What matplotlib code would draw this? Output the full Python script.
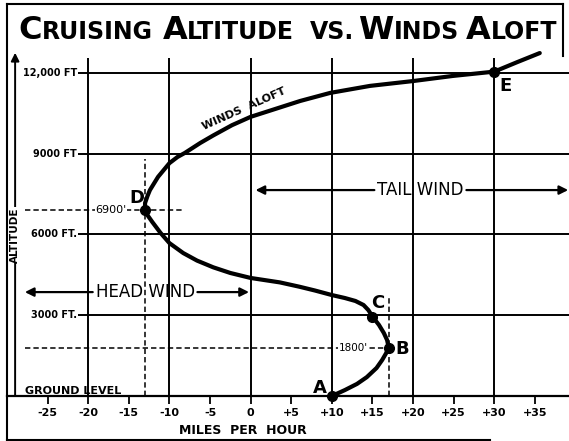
import matplotlib.pyplot as plt
from matplotlib.lines import Line2D

# winds aloft curve: wind speed in mph (+ = tail wind) against altitude in feet
wind = [10, 11.6, 13.1, 14.3, 15.5, 16.2, 16.7, 17.0,
        16.8, 16.4, 15.8, 15.0,
        14.5, 13.9, 12.9, 11.6, 10.0, 7.9, 6.0, 3.6, 0.0, -2.5, -4.6,
        -6.6, -8.3, -10.0, -11.1, -12.1, -12.8, -13.0,
        -13.0, -12.7, -12.4, -11.4, -10.0, -9.0, -8.1, -6.2, -4.6, -2.3,
        0.0, 3.0, 6.1, 9.8, 14.7, 20.0, 24.9, 30.0, 32.8, 35.6]
alt = [0, 220, 450, 700, 1040, 1340, 1600, 1800,
       2080, 2340, 2640, 2950,
       3190, 3380, 3530, 3640, 3750, 3920, 4060, 4220, 4385, 4570, 4780,
       5030, 5310, 5680, 6060, 6460, 6760, 6900,
       7170, 7430, 7650, 8140, 8650, 8880, 9030, 9400, 9680, 10060,
       10370, 10660, 10960, 11260, 11520, 11700, 11890, 12050, 12400, 12740]

# lettered points on the curve
pt_names = ['A', 'B', 'C', 'D', 'E']
pt_wind = [10, 17, 15, -13, 30]
pt_alt = [0, 1800, 2950, 6900, 12050]

mph_ticks = [-25, -20, -15, -10, -5, 0, 5, 10, 15, 20, 25, 30, 35]
mph_labels = ['-25', '-20', '-15', '-10', '-5', '0', '+5', '+10', '+15',
              '+20', '+25', '+30', '+35']
mph_grid = [-20, -10, 0, 10, 20, 30]
alt_grid = [3000, 6000, 9000, 12000]
alt_labels = ['3000 FT.', '6000 FT.', '9000 FT', '12,000 FT']

title_words = ['CRUISING', 'ALTITUDE', 'VS.', 'WINDS', 'ALOFT']

W, H = 569, 441
fig = plt.figure(figsize=(W / 100, H / 100), dpi=100)
ax = fig.add_axes([7 / W, (H - 396) / H, (W - 7) / W, (396 - 5) / H])
ax.set_xlim(-30, 39.2)
ax.set_ylim(0, 14525)
for s in ['left', 'right', 'top']:
    ax.spines[s].set_visible(False)
ax.spines['bottom'].set_linewidth(1.6)
ax.set_yticks([])
ax.set_xticks(mph_ticks, mph_labels)
ax.tick_params(axis='x', direction='out', length=6, width=1.3, pad=2.5,
               labelsize=8)
for lab in ax.get_xticklabels():
    lab.set_fontweight('bold')
ax.set_xlabel('MILES  PER  HOUR', fontsize=9, fontweight='bold')
ax.xaxis.set_label_coords((243 - 7) / (W - 7), -0.072)

# grid
ax.vlines(mph_grid, 0, 12550, color='k', lw=1.4)
ax.hlines(alt_grid, -21.3, 39.2, color='k', lw=1.4)
for a, lab in zip(alt_grid, alt_labels):
    ax.text(-21.4, a, lab, ha='right', va='center', fontsize=7,
            fontweight='bold')
ax.text(-27.8, 90, 'GROUND LEVEL', ha='left', va='baseline', fontsize=8,
        fontweight='bold')

# dashed guides through D and B
dash = dict(color='k', lw=1.1, linestyle=(0, (3.5, 2)))
ax.plot([pt_wind[3]] * 2, [0, 8800], **dash)
ax.plot([-27.8, -8.3], [pt_alt[3]] * 2, **dash)
ax.plot([pt_wind[1]] * 2, [0, 3640], **dash)
ax.plot([-27.8, pt_wind[1]], [pt_alt[1]] * 2, **dash)
ax.text(-17.2, pt_alt[3], f"{pt_alt[3]}'", ha='center', va='center',
        fontsize=8, bbox=dict(fc='white', ec='none', pad=0.5))
ax.text(12.7, pt_alt[1], f"{pt_alt[1]}'", ha='center', va='center',
        fontsize=7.5, bbox=dict(fc='white', ec='none', pad=0.5))

# curve and points
ax.plot(wind, alt, color='k', lw=3, solid_joinstyle='round',
        solid_capstyle='round', zorder=4)
ax.plot(pt_wind, pt_alt, 'o', color='k', ms=7, zorder=5, clip_on=False)
offsets = [(-12, 8), (13, -1), (5, 14), (-8, 12), (11, -14)]
for n, x, y, off in zip(pt_names, pt_wind, pt_alt, offsets):
    ax.annotate(n, (x, y), xytext=off, textcoords='offset pixels',
                ha='center', va='center', fontsize=13, fontweight='bold')

ax.text(-0.5, 10500, 'WINDS  ALOFT', ha='center', va='bottom', rotation=24,
        rotation_mode='anchor', fontsize=8, fontweight='bold')

# head / tail wind arrows
arrow = dict(arrowstyle='-|>', color='k', lw=1.6, mutation_scale=13,
             shrinkA=0, shrinkB=0)
for tip, col in [(-27.8, 'k'), (-0.2, 'none')]:
    ax.annotate('HEAD WIND', xy=(tip, 3860), xytext=(-13, 3860), ha='center',
                va='center', fontsize=12, color=col, arrowprops=arrow)
for tip, col in [(0.6, 'k'), (39.1, 'none')]:
    ax.annotate('TAIL WIND', xy=(tip, 7650), xytext=(20.9, 7650), ha='center',
                va='center', fontsize=12, color=col, arrowprops=arrow)

# altitude arrow on the left
ax.annotate('', xy=(-29.0, 12750), xytext=(-29.0, 0),
            arrowprops=dict(arrowstyle='-|>', color='k', lw=1.4,
                            mutation_scale=12, shrinkA=0, shrinkB=0))
ax.text(-29.0, 5980, 'ALTITUDE', rotation=90, ha='center', va='center',
        fontsize=7.5, fontweight='bold',
        bbox=dict(fc='white', ec='none', pad=0.3))


# frame round the drawing, given in pixels from the top left
def frame_line(x0, y0, x1, y1):
    fig.add_artist(Line2D([x0 / W, x1 / W], [1 - y0 / H, 1 - y1 / H],
                          color='k', lw=1.5, transform=fig.transFigure))


frame_line(7, 4, 7, 440)
frame_line(7, 4, 563, 4)
frame_line(563, 4, 563, 56)
frame_line(7, 440, 490, 440)

# title with a larger first letter on each word
gaps = [0, 10, 16, 4, 7]
prev = None
for word, gap in zip(title_words, gaps):
    parts = [(word, 17)] if word == 'VS.' else [(word[0], 23), (word[1:], 17)]
    for i, (txt, size) in enumerate(parts):
        if prev is None:
            prev = fig.text(18 / W, 1 - 39 / H, txt, fontsize=size,
                            fontweight='bold', ha='left', va='baseline')
            continue
        prev = ax.annotate(txt, xy=(1, H - 39),
                           xycoords=(prev, 'figure pixels'),
                           xytext=(gap if i == 0 else 0, 0),
                           textcoords='offset pixels', fontsize=size,
                           fontweight='bold', ha='left', va='baseline',
                           annotation_clip=False)

fig.savefig('out.png', dpi=100)
